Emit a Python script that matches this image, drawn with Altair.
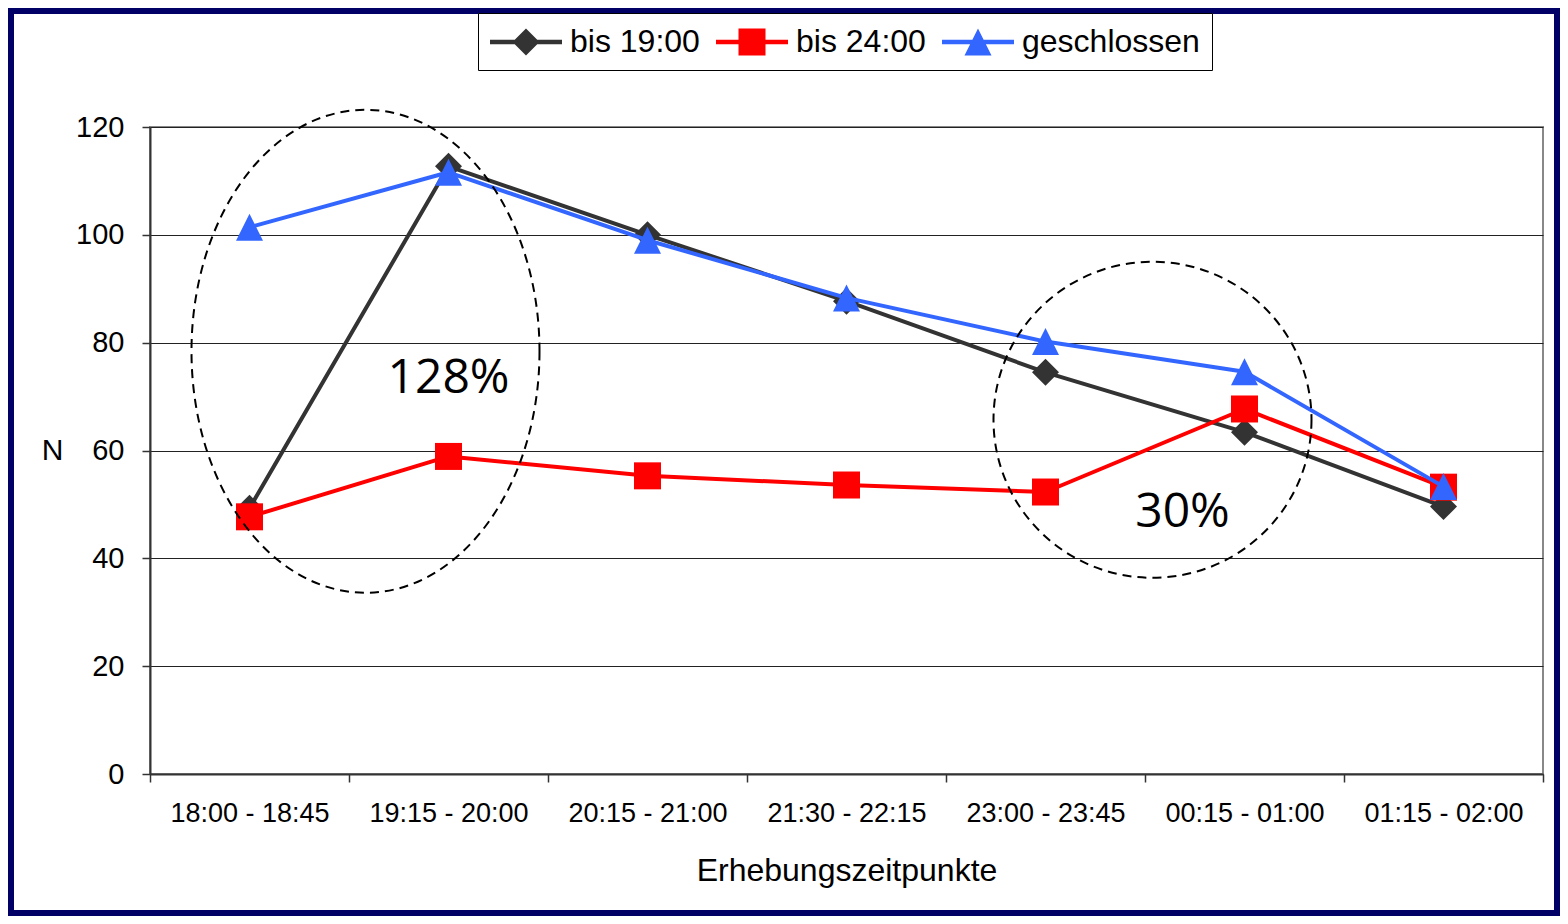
import altair as alt
import pandas as pd

# ---------------- data ----------------
categories = ["18:00 - 18:45", "19:15 - 20:00", "20:15 - 21:00", "21:30 - 22:15",
              "23:00 - 23:45", "00:15 - 01:00", "01:15 - 02:00"]
series_names = ["bis 19:00", "bis 24:00", "geschlossen"]
bis_19 = [49.3, 112.7, 100.0, 87.7, 74.5, 63.4, 49.6]
bis_24 = [47.7, 58.9, 55.3, 53.6, 52.3, 67.7, 53.2]
geschlossen = [101.4, 111.6, 99.0, 88.3, 80.2, 74.6, 53.3]
y_ticks = [0, 20, 40, 60, 80, 100, 120]

annotation_labels = ["128%", "30%"]
annotation_cats = ["19:15 - 20:00", "00:15 - 01:00"]
annotation_values = [70.7, 45.9]
annotation_dx = [0, -62]

ellipse_cats = ["18:00 - 18:45", "23:00 - 23:45"]
ellipse_values = [78.4, 65.7]

# ---------------- styling ----------------
series_colors = ["#333333", "#FF0000", "#3366FF"]
series_shapes = ["diamond", "square", "M 0 -1 L 1 1 L -1 1 Z"]
FONT = "Liberation Sans"

# legend symbols: line segment (72 px) with marker (27 px); unit = 17 px
LU = 17.0
sh = 19 / LU          # shift so the segment starts at the entry origin
hl = 36 / LU
hm = 13.5 / LU
ht = 2.16 / LU


def fmt(v):
    return f"{v:.4f}"


line_bar = (f"M {fmt(sh-hl)} {fmt(-ht)} L {fmt(sh+hl)} {fmt(-ht)} "
            f"L {fmt(sh+hl)} {fmt(ht)} L {fmt(sh-hl)} {fmt(ht)} Z ")
legend_paths = [
    line_bar + f"M {fmt(sh)} {fmt(-hm)} L {fmt(sh+hm)} 0 L {fmt(sh)} {fmt(hm)} L {fmt(sh-hm)} 0 Z",
    line_bar + (f"M {fmt(sh-hm)} {fmt(-hm)} L {fmt(sh+hm)} {fmt(-hm)} "
                f"L {fmt(sh+hm)} {fmt(hm)} L {fmt(sh-hm)} {fmt(hm)} Z"),
    line_bar + f"M {fmt(sh)} {fmt(-hm)} L {fmt(sh+hm)} {fmt(hm)} L {fmt(sh-hm)} {fmt(hm)} Z",
]


def ellipse_path(a, b):
    k = 0.5523
    return (f"M {a} 0 C {a} {k*b:.4f} {k*a:.4f} {b} 0 {b} "
            f"C {-k*a:.4f} {b} {-a} {k*b:.4f} {-a} 0 "
            f"C {-a} {-k*b:.4f} {-k*a:.4f} {-b} 0 {-b} "
            f"C {k*a:.4f} {-b} {a} {-k*b:.4f} {a} 0 Z")


rows = []
for name, vals in zip(series_names, [bis_19, bis_24, geschlossen]):
    for i, (c, v) in enumerate(zip(categories, vals)):
        rows.append({"Serie": name, "Zeit": c, "N": v, "idx": i})
df = pd.DataFrame(rows)

X_ENC = alt.X(
    "Zeit:N",
    sort=categories,
    bandPosition=0.5,
    scale=alt.Scale(type="band", domain=categories, paddingInner=0, paddingOuter=0),
    title="Erhebungszeitpunkte",
    axis=alt.Axis(
        labelAngle=0, labelFontSize=27, labelColor="black", labelPadding=18,
        labelFont=FONT, tickSize=8, tickColor="#333333", tickWidth=1.5,
        domainColor="#333333", domainWidth=2, tickBand="extent", grid=False,
        titleFont=FONT, titleFontSize=32, titleFontWeight="normal", titleColor="black",
        titleY=81, titleBaseline="top", labelLimit=0,
    ),
)
Y_ENC = alt.Y(
    "N:Q",
    scale=alt.Scale(domain=[0, 120], nice=False, zero=True),
    title="N",
    axis=alt.Axis(
        values=y_ticks, labelFontSize=29, labelColor="black", labelPadding=18,
        labelFont=FONT, tickSize=8, tickColor="#333333", tickWidth=1.5,
        domainColor="#333333", domainWidth=2, grid=True, gridColor="#222222",
        gridWidth=1, titleFont=FONT, titleFontSize=30, titleFontWeight="normal",
        titleColor="black", titleAngle=0, titleX=-98, titleY=323,
        titleAlign="center", titleBaseline="middle",
    ),
)

layers = []
for name, col, shp in zip(series_names, series_colors, series_shapes):
    layers.append(
        alt.Chart(df)
        .transform_filter(alt.datum.Serie == name)
        .mark_line(
            color=col, strokeWidth=4, strokeJoin="round", strokeCap="round",
            point=alt.OverlayMarkDef(shape=shp, size=729, filled=True, color=col,
                                     opacity=1, strokeWidth=0),
        )
        .encode(x=X_ENC, y=Y_ENC, order=alt.Order("idx:Q"))
    )

# legend-only layer (no visible marks)
LEG = alt.Legend(
    orient="none", legendX=328, legendY=-114, direction="horizontal", title=None,
    labelFont=FONT, labelFontSize=32, labelColor="black", labelOffset=46,
    labelLimit=0, columnPadding=16, padding=12, strokeColor="black",
    fillColor="white", symbolSize=(2 * LU) ** 2, symbolStrokeWidth=0, symbolOpacity=1,
)
legend_layer = (
    alt.Chart(df)
    .transform_filter("false")
    .mark_point(filled=True, opacity=1)
    .encode(
        x=X_ENC, y=Y_ENC,
        color=alt.Color("Serie:N", scale=alt.Scale(domain=series_names, range=series_colors), legend=LEG),
        shape=alt.Shape("Serie:N", scale=alt.Scale(domain=series_names, range=legend_paths), legend=LEG),
    )
)
layers.append(legend_layer)

# dashed ellipses
ell_specs = [(ellipse_path(0.7205, 1), 233289, 116), (ellipse_path(1, 0.9937), 101124, 107)]
for (path, size, xoff), cat, val in zip(ell_specs, ellipse_cats, ellipse_values):
    layers.append(
        alt.Chart(pd.DataFrame({"Zeit": [cat], "N": [val]}))
        .mark_point(shape=path, size=size, filled=False, color="black", strokeWidth=2,
                    strokeDash=[9, 6], opacity=1, xOffset=xoff)
        .encode(x=X_ENC, y=Y_ENC)
    )

# percentage annotations
for lab, cat, val, dx in zip(annotation_labels, annotation_cats, annotation_values, annotation_dx):
    layers.append(
        alt.Chart(pd.DataFrame({"Zeit": [cat], "N": [val], "t": [lab]}))
        .mark_text(font="Open Sans", fontSize=48, color="black", align="center",
                   baseline="alphabetic", dx=dx)
        .encode(x=X_ENC, y=Y_ENC, text="t:N")
    )

# navy outer frame
layers.append(
    alt.Chart(pd.DataFrame({"a": [0]}))
    .mark_rect(filled=False, stroke="#000066", strokeWidth=12, fillOpacity=0)
    .encode(x=alt.value(-142), x2=alt.value(1410), y=alt.value(-119), y2=alt.value(789))
)

chart = (
    alt.layer(*layers)
    .properties(
        width=1393, height=647,
        autosize=alt.AutoSizeParams(type="none"),
        padding={"left": 142, "top": 119, "right": 17, "bottom": 142},
        background="white",
    )
    .configure_view(stroke="#888888", strokeWidth=2)
)

chart.save("out.html", embed_options={"renderer": "svg", "actions": False})
